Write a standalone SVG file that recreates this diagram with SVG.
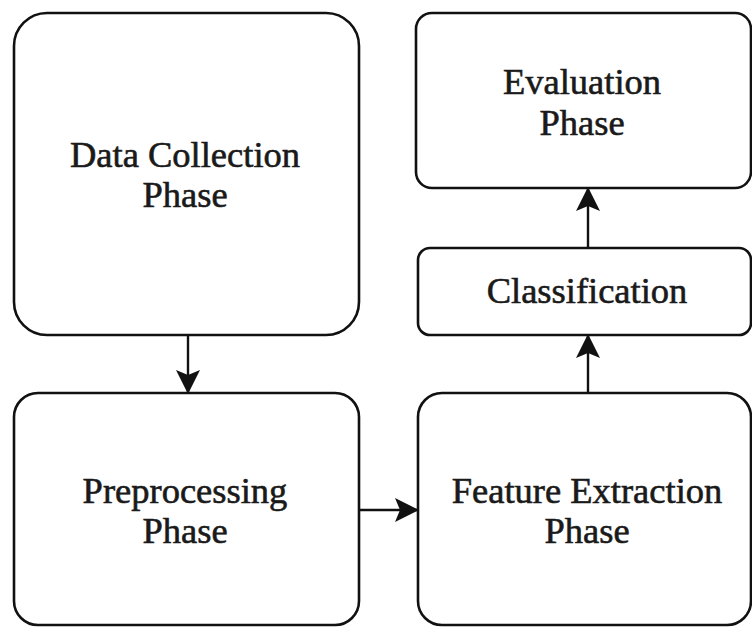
<svg xmlns="http://www.w3.org/2000/svg" width="752" height="627" viewBox="0 0 752 627">
<defs>
<style>
.box{fill:#fff;stroke:#111;stroke-width:2.6}
.lbl{font-family:"Liberation Serif","Times New Roman",serif;font-size:36.5px;fill:#1a1a1a;text-anchor:middle;stroke:#1a1a1a;stroke-width:0.6}
.con{stroke:#111;stroke-width:2.4;fill:none}
</style>
<marker id="ah" viewBox="0 0 24 24" markerWidth="24" markerHeight="24" refX="23" refY="12" orient="auto" markerUnits="userSpaceOnUse">
<path d="M0,0 L24,12 L0,24 L5,12 Z" fill="#111"/>
</marker>
</defs>
<rect width="752" height="627" fill="#fff"/>
<g id="data-collection">
<rect class="box" x="14" y="13" width="345" height="322" rx="33" ry="33"/>
<text class="lbl" x="185" y="167">Data Collection</text>
<text class="lbl" x="185" y="207">Phase</text>
</g>
<g id="preprocessing">
<rect class="box" x="14" y="393" width="345" height="232" rx="24" ry="24"/>
<text class="lbl" x="185" y="503">Preprocessing</text>
<text class="lbl" x="185" y="543">Phase</text>
</g>
<g id="feature-extraction">
<rect class="box" x="418" y="393" width="333" height="232" rx="24" ry="24"/>
<text class="lbl" x="587" y="503">Feature Extraction</text>
<text class="lbl" x="587" y="543">Phase</text>
</g>
<g id="classification">
<rect class="box" x="418" y="248" width="333" height="87" rx="12" ry="12"/>
<text class="lbl" x="587" y="303">Classification</text>
</g>
<g id="evaluation">
<rect class="box" x="416" y="13" width="335" height="175" rx="16" ry="16"/>
<text class="lbl" x="582" y="94">Evaluation</text>
<text class="lbl" x="582" y="135">Phase</text>
</g>
<g id="connectors">
<line class="con" x1="188" y1="336" x2="188" y2="393" marker-end="url(#ah)"/>
<line class="con" x1="359" y1="510" x2="418" y2="510" marker-end="url(#ah)"/>
<line class="con" x1="588" y1="393" x2="588" y2="335" marker-end="url(#ah)"/>
<line class="con" x1="588" y1="248" x2="588" y2="188" marker-end="url(#ah)"/>
</g>
</svg>
